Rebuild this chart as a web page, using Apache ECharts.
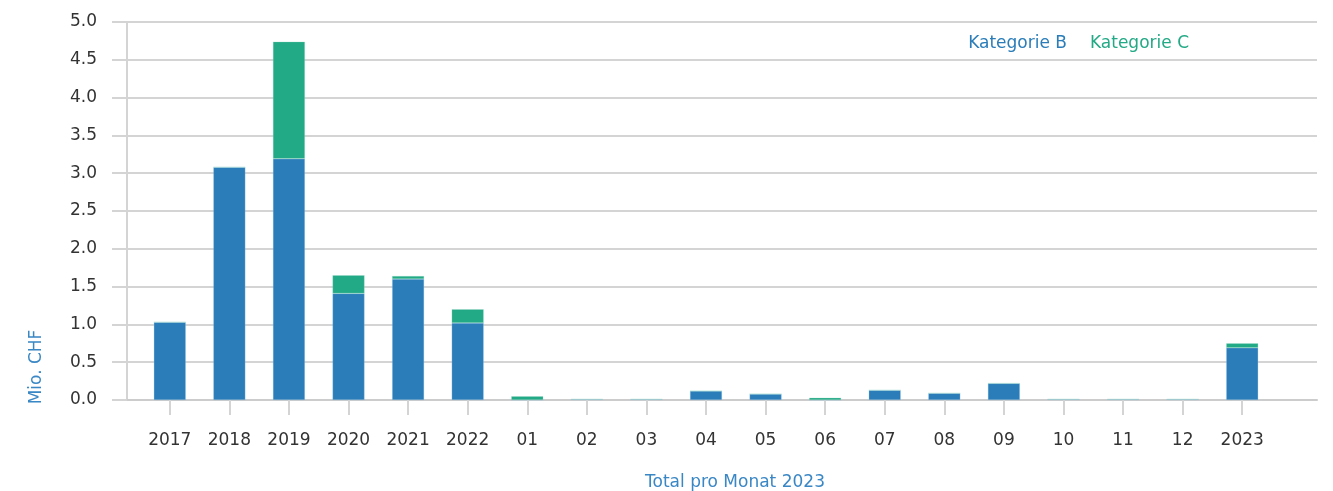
<!DOCTYPE html>
<html>
<head>
<meta charset="utf-8">
<script src="https://cdn.jsdelivr.net/npm/echarts@6/dist/echarts.min.js"></script>
<style>
  html, body { margin: 0; padding: 0; background: #fff; }
  #chart { width: 1333px; height: 491px; }
</style>
</head>
<body>
<div id="chart"></div>
<script>
// Kategorien (Jahre + Monate 2023)
const categories = ['2017', '2018', '2019', '2020', '2021', '2022', '01', '02', '03', '04', '05', '06', '07', '08', '09', '10', '11', '12', '2023'];

// Werte in Mio. CHF
const kategorieB = [1.03, 3.08, 3.19, 1.41, 1.60, 1.02, 0, 0.01, 0.01, 0.12, 0.08, 0, 0.13, 0.09, 0.22, 0.01, 0.01, 0.01, 0.69];
const kategorieC = [0, 0, 1.55, 0.24, 0.04, 0.18, 0.05, 0, 0, 0, 0, 0.03, 0, 0, 0, 0, 0, 0, 0.06];

const yTicks = {min: 0, max: 5, interval: 0.5};

const blue = '#2a7db9';
const green = '#22a985';
const titleBlue = '#3a87c5';
const font = 'DejaVu Sans, sans-serif';

const option = {
    animation: false,
    textStyle: {fontFamily: font},
    legend: {
        right: 139,
        top: 30,
        icon: 'none',
        itemWidth: 0,
        itemGap: 18,
        selectedMode: false,
        data: [
            {name: 'Kategorie B', textStyle: {color: blue}},
            {name: 'Kategorie C', textStyle: {color: green}}
        ],
        textStyle: {fontSize: 17, fontFamily: font}
    },
    grid: [
        // Raster + y-Achse
        {left: 127, right: 16, top: 22, bottom: 91, outerBoundsMode: 'none', containLabel: false},
        // Balken
        {left: 140, right: 61, top: 22, bottom: 91, outerBoundsMode: 'none', containLabel: false}
    ],
    xAxis: [
        {
            type: 'category', gridIndex: 0, data: [''],
            axisLine: {lineStyle: {color: '#cccccc', width: 2}},
            axisTick: {show: false},
            axisLabel: {show: false},
            name: 'Total pro Monat 2023',
            nameLocation: 'middle',
            nameGap: 74,
            nameTextStyle: {color: titleBlue, fontSize: 17, fontFamily: font, padding: [0, 0, 0, 26]}
        },
        {
            type: 'category', gridIndex: 1, data: categories,
            axisLine: {show: false},
            axisTick: {show: true, alignWithLabel: true, length: 15, lineStyle: {color: '#d4d4d4', width: 2}},
            axisLabel: {color: '#333', fontSize: 17, margin: 32, fontFamily: font}
        }
    ],
    yAxis: [
        {
            type: 'value', gridIndex: 0,
            min: yTicks.min, max: yTicks.max, interval: yTicks.interval,
            axisLine: {show: true, lineStyle: {color: '#d4d4d4', width: 2}},
            axisTick: {show: true, length: 15, lineStyle: {color: '#d4d4d4', width: 2}},
            splitLine: {show: true, lineStyle: {color: '#d4d4d4', width: 2}},
            axisLabel: {color: '#333', fontSize: 17, margin: 30, fontFamily: font,
                formatter: v => v.toFixed(1)}
        },
        {
            type: 'value', gridIndex: 1,
            min: yTicks.min, max: yTicks.max, interval: yTicks.interval,
            show: false
        }
    ],
    graphic: [
        {
            type: 'text',
            x: 37, y: 367,
            rotation: Math.PI / 2,
            style: {
                text: 'Mio. CHF', fill: titleBlue, font: '17px ' + font,
                align: 'center', verticalAlign: 'middle'
            }
        }
    ],
    series: [
        {
            name: 'Kategorie B', type: 'bar', stack: 'total',
            xAxisIndex: 1, yAxisIndex: 1,
            barWidth: 32,
            itemStyle: {color: blue, borderColor: 'rgba(160,200,230,0.6)', borderWidth: 0.5},
            data: kategorieB
        },
        {
            name: 'Kategorie C', type: 'bar', stack: 'total',
            xAxisIndex: 1, yAxisIndex: 1,
            barWidth: 32,
            itemStyle: {color: green, borderColor: 'rgba(160,220,200,0.6)', borderWidth: 0.5},
            data: kategorieC
        }
    ]
};

const chart = echarts.init(document.getElementById('chart'));
chart.setOption(option);
</script>
</body>
</html>
